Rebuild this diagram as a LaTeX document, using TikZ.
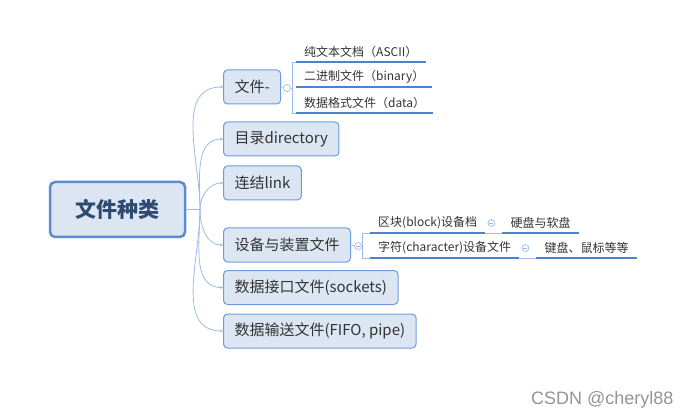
\documentclass[tikz,border=0pt]{standalone}
\usepackage{fontspec}
\setmainfont{Noto Sans CJK SC}
\newfontfamily\wmfont{Liberation Sans}
\usetikzlibrary{arrows.meta}
\definecolor{boxfill}{HTML}{DCE6F2}
\definecolor{boxline}{HTML}{6F9BD8}
\definecolor{rootline}{HTML}{5B8BD0}
\definecolor{rootink}{HTML}{2E4A70}
\definecolor{linkline}{HTML}{9DBBE6}
\definecolor{ulineblue}{HTML}{4A84D0}
\definecolor{inkgray}{HTML}{333333}

\begin{document}
\begin{tikzpicture}[x=1pt,y=-1pt,
    root/.style={draw=rootline, line width=2.5pt, fill=boxfill, rounded corners=5pt,
      minimum width=135pt, minimum height=55pt,
      font=\fontsize{21}{24}\selectfont\bfseries, text=rootink},
    topic/.style={draw=boxline, line width=1pt, fill=boxfill, rounded corners=4pt,
      minimum height=34pt, inner xsep=11pt, anchor=west,
      font=\fontsize{15}{18}\selectfont, text=inkgray},
    leaf/.style={minimum height=20pt, inner xsep=8pt, anchor=south west,
      font=\fontsize{12}{15}\selectfont, text=inkgray},
    uline/.style={draw=ulineblue, line width=2pt},
    branch/.style={draw=linkline, line width=0.8pt, -{Stealth[length=3pt,width=3pt]}},
    thin/.style={draw=linkline, line width=0.8pt},
    knob/.style={circle, draw=linkline, fill=white, line width=0.7pt, inner sep=0pt, minimum size=7pt},
    minusknob/.style={knob, path picture={\draw[linkline, line width=0.7pt]
      ([xshift=-2pt]path picture bounding box.center) -- ([xshift=2pt]path picture bounding box.center);}}]
  \useasboundingbox (0,0) rectangle (692,419);

  % central topic and main branches
  \node[root] (root) at (117.5,209.5) {文件种类};
  \coordinate (hub) at (200,209.5);

  \node[topic] (file) at (223,87) {文件-};
  \node[topic] (dir)  at (223,139) {目录directory};
  \node[topic] (link) at (223,183) {连结link};
  \node[topic] (dev)  at (223,245) {设备与装置文件};
  \node[topic] (sock) at (223,287.5) {数据接口文件(sockets)};
  \node[topic] (fifo) at (223,331) {数据输送文件(FIFO, pipe)};

  \draw[thin] (root.east) -- (hub);
  \foreach \t in {file,dir,link}
    \draw[branch] (hub) to[out=90,in=180] (\t.west);
  \foreach \t in {dev,sock,fifo}
    \draw[branch] (hub) to[out=-90,in=180] (\t.west);

  % leaves of 文件-
  \node[knob] (fk) at (287,88) {};
  \node[leaf] (ascii)  at (296,62)  {纯文本文档（ASCII）};
  \node[leaf] (binary) at (296,87)  {二进制文件（binary）};
  \node[leaf] (data)   at (296,113) {数据格式文件（data）};
  \draw[thin] (file.east) -- (fk);
  \draw[thin] (fk) -- (292,88);
  \draw[thin] (ascii.south west) -| (292,113) -- (data.south west);
  \foreach \l in {ascii,binary,data}
    \draw[uline] (\l.south west) -- (\l.south east);

  % leaves of 设备与装置文件
  \node[minusknob] (dk) at (358,246) {};
  \node[leaf] (block) at (370,233) {区块(block)设备档};
  \node[leaf] (chr)   at (370,258) {字符(character)设备文件};
  \node[minusknob] (bk) at ([xshift=6pt,yshift=10pt]block.south east) {};
  \node[minusknob] (ck) at ([xshift=6pt,yshift=10pt]chr.south east) {};
  \node[leaf] (hdd) at ([xshift=17pt]block.south east) {硬盘与软盘};
  \node[leaf] (kbd) at ([xshift=17pt]chr.south east) {键盘、鼠标等等};
  \draw[thin] (dev.east) -- (dk);
  \draw[thin] (dk) -- (362,246);
  \draw[thin] (block.south west) -| (362,258) -- (chr.south west);
  \draw[thin] (block.south east) -- (hdd.south west);
  \draw[thin] (chr.south east) -- (kbd.south west);
  \foreach \l in {block,chr,hdd,kbd}
    \draw[uline] (\l.south west) -- (\l.south east);

  % watermark
  \node[anchor=east, text=black!42, font=\wmfont\fontsize{18}{20}\selectfont] (mark) at (677,400) {CSDN @cheryl88};
\end{tikzpicture}
\end{document}
